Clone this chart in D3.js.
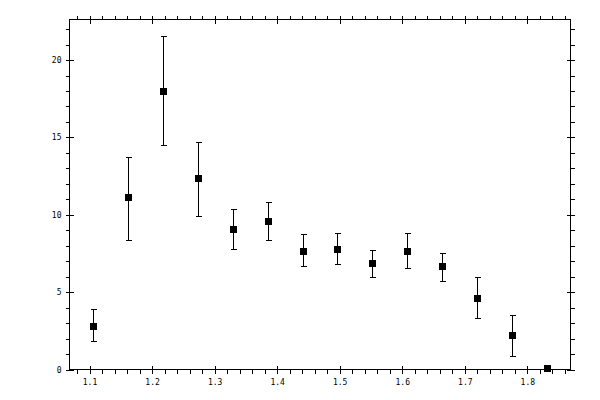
<!DOCTYPE html>
<html>
<head>
<meta charset="utf-8" />
<title>Error bars</title>
<script src="https://d3js.org/d3.v7.min.js"></script>
<style>
  body { margin: 0; background: #fff; }
  text { font-family: "DejaVu Sans Mono", monospace; font-size: 8px; fill: #000; }
</style>
</head>
<body>
<script>
// values
var xs   = [1.105, 1.161, 1.217, 1.273, 1.329, 1.385, 1.441, 1.496, 1.552, 1.608, 1.663, 1.720, 1.775, 1.831];
var ys   = [2.84, 11.12, 18.03, 12.35, 9.11, 9.57, 7.69, 7.82, 6.87, 7.69, 6.66, 4.65, 2.20, 0.10];
var yHi  = [3.88, 13.74, 21.53, 14.71, 10.38, 10.83, 8.73, 8.79, 7.73, 8.79, 7.56, 6.01, 3.49, 0.10];
var yLo  = [1.87, 8.40, 14.54, 9.95, 7.80, 8.34, 6.72, 6.79, 6.01, 6.53, 5.75, 3.30, 0.90, 0.10];
var xMajor = [1.1, 1.2, 1.3, 1.4, 1.5, 1.6, 1.7, 1.8];
var xMinor = d3.range(1.08, 1.87, 0.02);
var yMajor = [0, 5, 10, 15, 20];
var yMinor = d3.range(0, 23, 1);

var W = 600, H = 400;
var L = 69.5, R = 570.5, T = 19.5, B = 369.5;

var svg = d3.select("body").append("svg")
  .attr("width", W)
  .attr("height", H);

var x = d3.scaleLinear().domain([1.068, 1.869]).range([L, R]);
var y = d3.scaleLinear().domain([0, 22.62]).range([B, T]);

function axis(gen, tr, vals, size, labels) {
  var g = svg.append("g")
    .attr("transform", tr)
    .attr("shape-rendering", "crispEdges")
    .call(gen.tickValues(vals).tickSize(size).tickPadding(4)
      .tickFormat(labels ? d3.format("") : ""));
  g.select(".domain").remove();
  g.selectAll("line").attr("stroke", "#000");
  return g;
}

// minor ticks point outward, majors cross the frame
axis(d3.axisBottom(x), "translate(0," + B + ")", xMinor, 4, false);
axis(d3.axisTop(x), "translate(0," + T + ")", xMinor, 4, false);
axis(d3.axisLeft(y), "translate(" + L + ",0)", yMinor, 4, false);
axis(d3.axisRight(y), "translate(" + R + ",0)", yMinor, 4, false);

axis(d3.axisBottom(x), "translate(0," + B + ")", xMajor, -4, false);
axis(d3.axisTop(x), "translate(0," + T + ")", xMajor, -4, false);
axis(d3.axisLeft(y), "translate(" + L + ",0)", yMajor, -4, false);
axis(d3.axisRight(y), "translate(" + R + ",0)", yMajor, -4, false);

var xb = axis(d3.axisBottom(x), "translate(0," + B + ")", xMajor, 4, true);
xb.selectAll("text").attr("dy", "0.9em");
axis(d3.axisTop(x), "translate(0," + T + ")", xMajor, 4, false);
axis(d3.axisLeft(y), "translate(" + L + ",0)", yMajor, 4, true);
axis(d3.axisRight(y), "translate(" + R + ",0)", yMajor, 4, false);

// frame
svg.append("rect")
  .attr("x", L).attr("y", T)
  .attr("width", R - L).attr("height", B - T)
  .attr("fill", "none")
  .attr("stroke", "#000")
  .attr("shape-rendering", "crispEdges");

var pts = xs.map(function(d, i) { return { x: d, y: ys[i], hi: yHi[i], lo: yLo[i] }; });
var cap = 3;

var eb = svg.append("g")
  .attr("stroke", "#000")
  .attr("shape-rendering", "crispEdges");

eb.selectAll("line.v").data(pts).enter().append("line")
  .attr("x1", function(d) { return Math.round(x(d.x)) + 0.5; })
  .attr("x2", function(d) { return Math.round(x(d.x)) + 0.5; })
  .attr("y1", function(d) { return y(d.hi); })
  .attr("y2", function(d) { return y(d.lo); });

eb.selectAll("line.t").data(pts).enter().append("line")
  .attr("x1", function(d) { return Math.round(x(d.x)) + 0.5 - cap; })
  .attr("x2", function(d) { return Math.round(x(d.x)) + 0.5 + cap; })
  .attr("y1", function(d) { return Math.round(y(d.hi)) + 0.5; })
  .attr("y2", function(d) { return Math.round(y(d.hi)) + 0.5; });

eb.selectAll("line.b").data(pts).enter().append("line")
  .attr("x1", function(d) { return Math.round(x(d.x)) + 0.5 - cap; })
  .attr("x2", function(d) { return Math.round(x(d.x)) + 0.5 + cap; })
  .attr("y1", function(d) { return Math.round(y(d.lo)) + 0.5; })
  .attr("y2", function(d) { return Math.round(y(d.lo)) + 0.5; });

svg.append("g").selectAll("rect").data(pts).enter().append("rect")
  .attr("x", function(d) { return Math.round(x(d.x)) - 3; })
  .attr("y", function(d) { return Math.round(y(d.y)) - 3; })
  .attr("width", 7)
  .attr("height", 7)
  .attr("fill", "#000")
  .attr("shape-rendering", "crispEdges");
</script>
</body>
</html>
